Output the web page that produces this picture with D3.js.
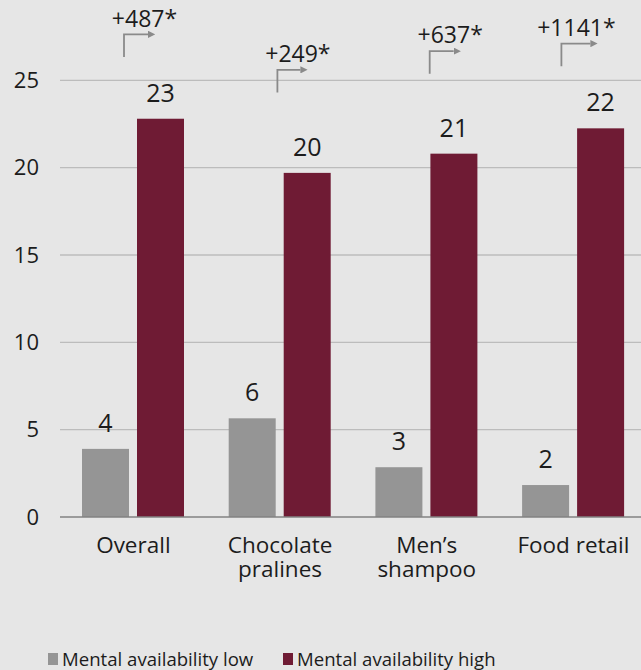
<!DOCTYPE html>
<html>
<head>
<meta charset="utf-8">
<script src="https://cdn.jsdelivr.net/npm/d3@7"></script>
<style>
  html, body { margin: 0; padding: 0; background: #e6e6e6; }
  svg { display: block; font-family: "Open Sans", sans-serif; }
</style>
</head>
<body>
<svg id="chart" width="641" height="670"></svg>
<script>
// ---- data ----
const categories = [["Overall"], ["Chocolate", "pralines"], ["Men\u2019s", "shampoo"], ["Food retail"]];
const seriesNames = ["Mental availability low", "Mental availability high"];
const lowValues = [3.9, 5.65, 2.85, 1.83];
const highValues = [22.8, 19.7, 20.8, 22.25];
const lowLabels = ["4", "6", "3", "2"];
const highLabels = ["23", "20", "21", "22"];
const upliftLabels = ["+487*", "+249*", "+637*", "+1141*"];
const upliftLevels = [27.63, 25.6, 26.67, 27.1];   // arrow top, in chart units
const yTicks = [0, 5, 10, 15, 20, 25];

// ---- styles ----
const colors = ["#959595", "#6f1b34"];
const textColor = "#1c1c1c";

const svg = d3.select("#chart");
const W = 641, H = 670;
const left = 60, baseline = 517;

const x0 = d3.scaleBand().domain(d3.range(categories.length)).range([left, left + 4 * 146.7]);
const x1 = d3.scaleBand().domain([0, 1]).range([22, 124]).paddingInner(0.1455);
const y = d3.scaleLinear().domain([0, 25]).range([baseline, 80.3]);

// gridlines
svg.append("g").selectAll("line").data(yTicks.filter(d => d > 0)).join("line")
  .attr("x1", left).attr("x2", W)
  .attr("y1", d => y(d)).attr("y2", d => y(d))
  .attr("stroke", "#bcbcbc").attr("stroke-width", 1.3);

// y axis labels
const yAxis = d3.axisLeft(y).tickValues(yTicks).tickSize(0).tickPadding(21);
const ya = svg.append("g").attr("transform", `translate(${left},0)`).call(yAxis);
ya.select(".domain").remove();
ya.selectAll("text").attr("font-size", 22).attr("fill", textColor).attr("font-family", "'Open Sans', sans-serif");

// bars
const rows = categories.map((c, i) => ({ i, vals: [lowValues[i], highValues[i]], labs: [lowLabels[i], highLabels[i]] }));
const groups = svg.append("g").selectAll("g").data(rows).join("g")
  .attr("transform", d => `translate(${x0(d.i)},0)`);

groups.selectAll("rect").data(d => d.vals.map((v, k) => ({ v, k }))).join("rect")
  .attr("x", d => x1(d.k)).attr("width", x1.bandwidth())
  .attr("y", d => y(d.v)).attr("height", d => baseline - y(d.v))
  .attr("fill", d => colors[d.k]);

groups.selectAll("text.val").data(d => d.vals.map((v, k) => ({ v, k, lab: d.labs[k] }))).join("text")
  .attr("class", "val")
  .attr("x", d => x1(d.k) + x1.bandwidth() / 2)
  .attr("y", d => y(d.v) - 17)
  .attr("text-anchor", "middle").attr("font-size", 25).attr("fill", textColor)
  .text(d => d.lab);

// baseline axis
svg.append("line").attr("x1", left).attr("x2", W).attr("y1", baseline).attr("y2", baseline)
  .attr("stroke", "#828282").attr("stroke-width", 1.6);

// category labels
const cat = svg.append("g").selectAll("text").data(categories).join("text")
  .attr("x", (d, i) => x0(i) + x0.bandwidth() / 2)
  .attr("y", 552.5)
  .attr("text-anchor", "middle").attr("font-size", 22.5).attr("fill", textColor);
cat.selectAll("tspan").data(d => d).join("tspan")
  .attr("x", function() { return d3.select(this.parentNode).attr("x"); })
  .attr("dy", (d, j) => j === 0 ? 0 : 24)
  .text(d => d);

// uplift arrows
const defs = svg.append("defs");
defs.append("marker").attr("id", "ah").attr("viewBox", "0 0 10 10")
  .attr("refX", 0).attr("refY", 5).attr("markerWidth", 4).attr("markerHeight", 4)
  .attr("markerUnits", "strokeWidth").attr("orient", "auto")
  .append("path").attr("d", "M0,0 L10,5 L0,10 Z").attr("fill", "#8a8a8a");

const arrowDx = [42, 48.7, 54.3, 39.3];
const arrowWidth = [24, 23, 24, 29];
const ann = svg.append("g").selectAll("g").data(upliftLabels).join("g")
  .attr("transform", (d, i) => `translate(${x0(i) + x1(0) + arrowDx[i]},${y(upliftLevels[i])})`);
ann.append("path")
  .attr("d", (d, i) => `M0,22.7 V0 H${arrowWidth[i]}`)
  .attr("fill", "none").attr("stroke", "#8a8a8a").attr("stroke-width", 1.8)
  .attr("marker-end", "url(#ah)");
ann.append("text")
  .attr("x", (d, i) => i === 3 ? 15 : 20.5).attr("y", -7.7)
  .attr("text-anchor", "middle").attr("font-size", 23).attr("fill", textColor)
  .text(d => d);

// legend
const legendX = [48, 283];
const leg = svg.append("g").selectAll("g").data(seriesNames).join("g")
  .attr("transform", (d, i) => `translate(${legendX[i]},0)`);
leg.append("rect").attr("x", 0).attr("y", 653).attr("width", 10).attr("height", 12)
  .attr("fill", (d, i) => colors[i]);
leg.append("text").attr("x", 14).attr("y", 665.5)
  .attr("font-size", 18.6).attr("fill", textColor).text(d => d);
</script>
</body>
</html>
